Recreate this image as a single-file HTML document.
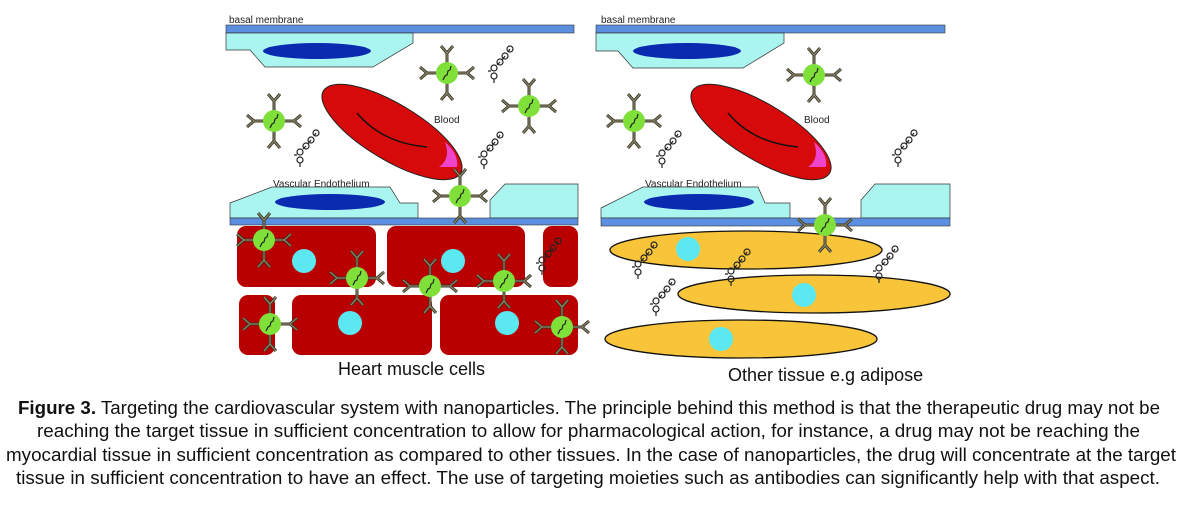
<!DOCTYPE html>
<html><head><meta charset="utf-8"><style>
html,body{margin:0;padding:0;background:#fff;width:1184px;height:506px;overflow:hidden}
svg{display:block}
</style></head><body>
<svg width="1184" height="506" viewBox="0 0 1184 506" xmlns="http://www.w3.org/2000/svg" font-family="Liberation Sans, sans-serif">
<defs>
  <g id="ab">
    <line x1="0" y1="-10" x2="0" y2="-20" stroke="#3a3a2a" stroke-width="3"/>
    <line x1="0" y1="-10" x2="0" y2="-20" stroke="#9a9070" stroke-width="1"/>
    <line x1="0" y1="-20" x2="-6" y2="-27" stroke="#3a3a2a" stroke-width="3"/>
    <line x1="0" y1="-20" x2="6" y2="-27" stroke="#3a3a2a" stroke-width="3"/>
    <line x1="0" y1="-20" x2="-6" y2="-27" stroke="#9a9070" stroke-width="1"/>
    <line x1="0" y1="-20" x2="6" y2="-27" stroke="#9a9070" stroke-width="1"/>
  </g>
  <g id="np">
    <use href="#ab"/>
    <use href="#ab" transform="rotate(90)"/>
    <use href="#ab" transform="rotate(180)"/>
    <use href="#ab" transform="rotate(270)"/>
    <circle r="11" fill="#7fe03a"/>
    <path d="M-4,7 l2,-4 l2,-1 l1,-4 l2,-1 l1,-4" stroke="#222" stroke-width="1.2" fill="none"/>
  </g>
  <g id="drug" fill="none" stroke="#222" stroke-width="1.2">
    <circle cx="-6" cy="14" r="3"/>
    <circle cx="-6" cy="6" r="3"/>
    <circle cx="0" cy="0" r="3"/>
    <circle cx="5" cy="-6" r="3"/>
    <circle cx="10" cy="-13" r="3"/>
    <path d="M-6,17 v4 M-9,9 h-3 M-3,3 l3,-3 M2,-2 l3,-4 M8,-10 l2,-3"/>
  </g>
</defs>

<!-- LEFT PANEL -->
<text x="229" y="23" font-size="10" fill="#222">basal membrane</text>
<rect x="226" y="25" width="348" height="8" fill="#5b8fe0" stroke="#333" stroke-width="0.6"/>
<polygon points="226,33 413,33 413,43 373,67 265,67 250,50 226,50" fill="#aaf5f0" stroke="#333" stroke-width="0.7"/>
<ellipse cx="317" cy="51" rx="54" ry="8" fill="#0a2ab0"/>

<ellipse cx="392" cy="132" rx="80" ry="28" transform="rotate(31 392 132)" fill="#d60a0a" stroke="#222" stroke-width="1"/>
<path d="M445,142 q14,12 12,25 q-10,0 -18,0 q12,-8 6,-25z" fill="#ee44cc"/>
<path d="M357,113 q25,30 70,34" fill="none" stroke="#111" stroke-width="1.5"/>
<text x="434" y="123" font-size="10" fill="#222">Blood</text>

<text x="273" y="187" font-size="10" fill="#222">Vascular Endothelium</text>
<polygon points="230,203 272,187 390,187 400,203 418,203 418,218 230,218" fill="#aaf5f0" stroke="#333" stroke-width="0.7"/>
<polygon points="490,218 490,200 505,184 578,184 578,218" fill="#aaf5f0" stroke="#333" stroke-width="0.7"/>
<ellipse cx="330" cy="202" rx="55" ry="8" fill="#0a2ab0"/>
<rect x="230" y="218" width="348" height="7" fill="#5b8fe0" stroke="#333" stroke-width="0.6"/>

<g fill="#b80000">
  <rect x="237" y="226" width="139" height="61" rx="9"/>
  <rect x="387" y="226" width="138" height="61" rx="9"/>
  <rect x="543" y="226" width="35" height="61" rx="9"/>
  <rect x="239" y="295" width="36" height="60" rx="9"/>
  <rect x="292" y="295" width="140" height="60" rx="9"/>
  <rect x="440" y="295" width="138" height="60" rx="9"/>
</g>
<g fill="#5ce8f0">
  <circle cx="304" cy="261" r="12"/><circle cx="453" cy="261" r="12"/>
  <circle cx="350" cy="323" r="12"/><circle cx="507" cy="323" r="12"/>
</g>
<text x="338" y="375" font-size="18" fill="#111">Heart muscle cells</text>

<use href="#drug" x="500" y="62"/>
<use href="#drug" x="306" y="146"/>
<use href="#drug" x="490" y="148"/>
<use href="#drug" x="548" y="254"/>

<use href="#np" x="447" y="73"/>
<use href="#np" x="274" y="121"/>
<use href="#np" x="529" y="106"/>
<use href="#np" x="460" y="196"/>
<use href="#np" x="264" y="240"/>
<use href="#np" x="357" y="278"/>
<use href="#np" x="430" y="286"/>
<use href="#np" x="504" y="281"/>
<use href="#np" x="270" y="324"/>
<use href="#np" x="562" y="327"/>

<!-- RIGHT PANEL -->
<text x="601" y="23" font-size="10" fill="#222">basal membrane</text>
<rect x="596" y="25" width="349" height="8" fill="#5b8fe0" stroke="#333" stroke-width="0.6"/>
<polygon points="596,33 784,33 784,43 743,68 633,68 618,51 596,51" fill="#aaf5f0" stroke="#333" stroke-width="0.7"/>
<ellipse cx="687" cy="51" rx="54" ry="8" fill="#0a2ab0"/>

<ellipse cx="761" cy="132" rx="80" ry="28" transform="rotate(31 761 132)" fill="#d60a0a" stroke="#222" stroke-width="1"/>
<path d="M814,142 q14,12 12,25 q-10,0 -18,0 q12,-8 6,-25z" fill="#ee44cc"/>
<path d="M728,113 q25,30 70,34" fill="none" stroke="#111" stroke-width="1.5"/>
<text x="804" y="123" font-size="10" fill="#222">Blood</text>

<text x="645" y="187" font-size="10" fill="#222">Vascular Endothelium</text>
<polygon points="601,208 643,187 758,187 765,203 790,203 790,218 601,218" fill="#aaf5f0" stroke="#333" stroke-width="0.7"/>
<polygon points="861,218 861,200 875,184 950,184 950,218" fill="#aaf5f0" stroke="#333" stroke-width="0.7"/>
<ellipse cx="699" cy="202" rx="55" ry="8" fill="#0a2ab0"/>
<rect x="601" y="218" width="349" height="8" fill="#5b8fe0" stroke="#333" stroke-width="0.6"/>

<g fill="#f8c53a" stroke="#111" stroke-width="1.3">
  <ellipse cx="746" cy="250" rx="136" ry="19"/>
  <ellipse cx="814" cy="294" rx="136" ry="19"/>
  <ellipse cx="741" cy="339" rx="136" ry="19"/>
</g>
<g fill="#5ce8f0">
  <circle cx="688" cy="249" r="12"/><circle cx="804" cy="295" r="12"/><circle cx="721" cy="339" r="12"/>
</g>
<text x="728" y="381" font-size="18" fill="#111">Other tissue e.g adipose</text>

<use href="#drug" x="668" y="147"/>
<use href="#drug" x="904" y="146"/>
<use href="#drug" x="644" y="258"/>
<use href="#drug" x="737" y="265"/>
<use href="#drug" x="662" y="295"/>
<use href="#drug" x="885" y="262"/>

<use href="#np" x="814" y="75"/>
<use href="#np" x="634" y="121"/>
<use href="#np" x="825" y="225"/>

<!-- CAPTION -->
<g font-size="18" fill="#111">
<text x="18" y="414" textLength="1142" lengthAdjust="spacingAndGlyphs"><tspan font-weight="bold">Figure 3.</tspan> Targeting the cardiovascular system with nanoparticles. The principle behind this method is that the therapeutic drug may not be</text>
<text x="37" y="437" textLength="1103" lengthAdjust="spacingAndGlyphs">reaching the target tissue in sufficient concentration to allow for pharmacological action, for instance, a drug may not be reaching the</text>
<text x="6" y="461" textLength="1170" lengthAdjust="spacingAndGlyphs">myocardial tissue in sufficient concentration as compared to other tissues. In the case of nanoparticles, the drug will concentrate at the target</text>
<text x="16" y="484" textLength="1144" lengthAdjust="spacingAndGlyphs">tissue in sufficient concentration to have an effect. The use of targeting moieties such as antibodies can significantly help with that aspect.</text>
</g>
</svg>
</body></html>
